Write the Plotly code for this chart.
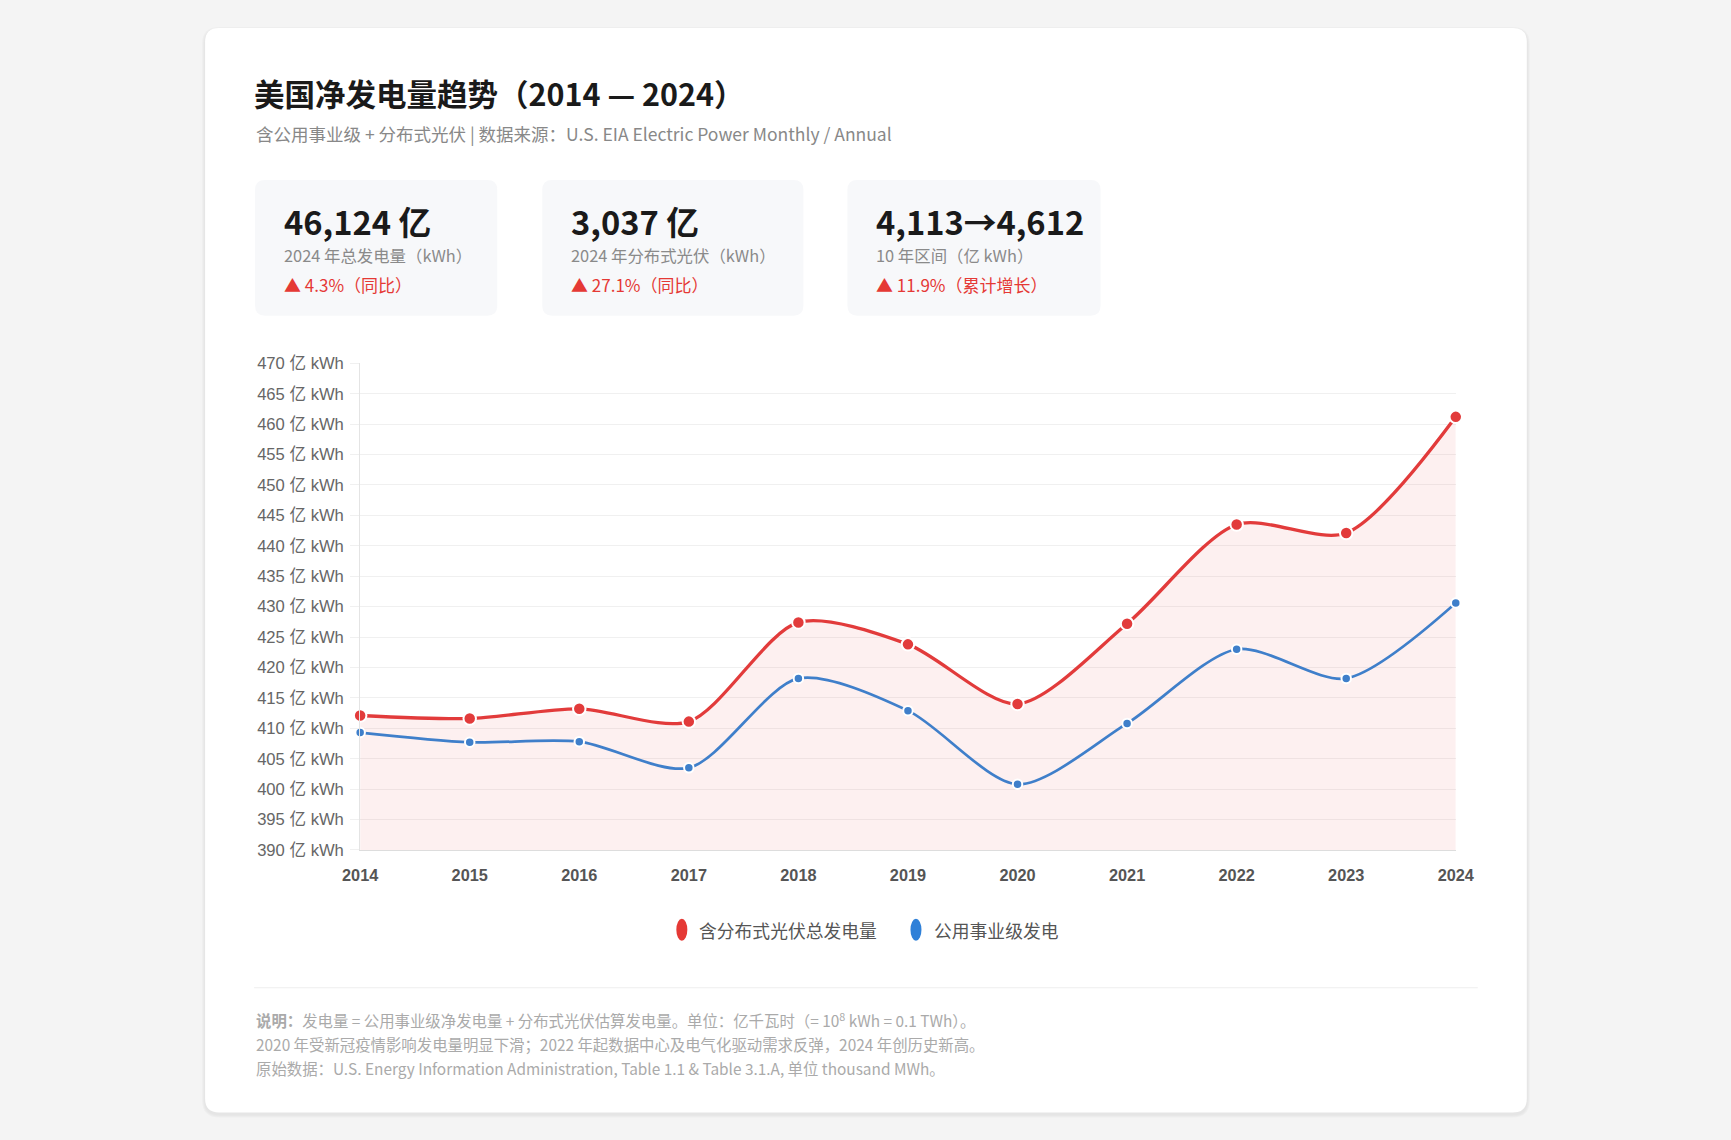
import plotly.graph_objects as go

# ---------------- data ----------------
years = [2014, 2015, 2016, 2017, 2018, 2019, 2020, 2021, 2022, 2023, 2024]
total_gen = [412.1, 411.6, 413.2, 411.1, 427.4, 423.8, 414.0, 427.2, 443.5, 442.1, 461.2]
utility_gen = [409.3, 407.7, 407.8, 403.5, 418.2, 412.9, 400.8, 410.8, 423.0, 418.2, 430.6]
series_names = ["含分布式光伏总发电量", "公用事业级发电"]
y_ticks = list(range(390, 471, 5))
y_tick_text = [f"{v} 亿 kWh" for v in y_ticks]

title_text = "美国净发电量趋势（2014 — 2024）"
subtitle_text = "含公用事业级 + 分布式光伏 | 数据来源：U.S. EIA Electric Power Monthly / Annual"
kpi_values = ["46,124 亿", "3,037 亿", "4,113→4,612"]
kpi_labels = ["2024 年总发电量（kWh）", "2024 年分布式光伏（kWh）", "10 年区间（亿 kWh）"]
kpi_deltas = ["▲ 4.3%（同比）", "▲ 27.1%（同比）", "▲ 11.9%（累计增长）"]
notes = [
    "<b>说明：</b>发电量 = 公用事业级净发电量 + 分布式光伏估算发电量。单位：亿千瓦时（= 10<sup>8</sup> kWh = 0.1 TWh）。",
    "2020 年受新冠疫情影响发电量明显下滑；2022 年起数据中心及电气化驱动需求反弹，2024 年创历史新高。",
    "原始数据：U.S. Energy Information Administration, Table 1.1 & Table 3.1.A, 单位 thousand MWh。",
]

# ---------------- layout helpers ----------------
# measured mapping between page pixels and the captured picture
SX, OX, SY, OY, M = 0.979, 10.2, 0.985, 0.0, 8
W, H = 1760, 1160
RED = "#e23b3b"
BLUE = "#3f7fca"
CJK = "Noto Sans CJK SC, sans-serif"
ARIAL = "Liberation Sans, Arial, Noto Sans CJK SC, sans-serif"


def X(r):  # target picture pixel -> paper fraction
    return ((r - OX) / SX - M) / W


def Y(r):
    return 1 - ((r - OY) / SY - M) / H


def rrect(x0, y0, x1, y1, r, fill, line="rgba(0,0,0,0)", lw=0):
    p = (
        f"M {X(x0 + r)},{Y(y0)} L {X(x1 - r)},{Y(y0)} Q {X(x1)},{Y(y0)} {X(x1)},{Y(y0 + r)} "
        f"L {X(x1)},{Y(y1 - r)} Q {X(x1)},{Y(y1)} {X(x1 - r)},{Y(y1)} "
        f"L {X(x0 + r)},{Y(y1)} Q {X(x0)},{Y(y1)} {X(x0)},{Y(y1 - r)} "
        f"L {X(x0)},{Y(y0 + r)} Q {X(x0)},{Y(y0)} {X(x0 + r)},{Y(y0)} Z"
    )
    return dict(type="path", xref="paper", yref="paper", path=p, fillcolor=fill,
                line=dict(color=line, width=lw), layer="below")


fig = go.Figure()

fig.add_trace(go.Scatter(
    x=years, y=total_gen, name=series_names[0], mode="lines+markers",
    line=dict(color=RED, width=3.3, shape="spline", smoothing=0.8),
    marker=dict(size=12.5, color=RED, line=dict(color="white", width=2)),
    fill="tozeroy", fillcolor="rgba(226,59,59,0.08)", cliponaxis=False,
    showlegend=False,
))
fig.add_trace(go.Scatter(
    x=years, y=utility_gen, name=series_names[1], mode="lines+markers",
    line=dict(color=BLUE, width=2.7, shape="spline", smoothing=0.8),
    marker=dict(size=9.5, color=BLUE, line=dict(color="white", width=2)),
    cliponaxis=False, showlegend=False,
))

shapes = []
# card shadow + card
for i, a in enumerate([0.025, 0.02, 0.015]):
    d = 3 - i
    shapes.append(rrect(205 - d, 27 - d + 2, 1526 + d, 1113 + d + 2, 14 + d, f"rgba(0,0,0,{a})"))
shapes.append(rrect(205, 27, 1526, 1113, 14, "#ffffff"))
# KPI cards
kpi_boxes = [(255, 179, 497, 315), (542, 179, 803, 315), (847, 179, 1100, 315)]
for (x0, y0, x1, y1) in kpi_boxes:
    shapes.append(rrect(x0, y0, x1, y1, 10, "#f7f8fa"))
# divider
shapes.append(dict(type="line", xref="paper", yref="paper", x0=X(254), x1=X(1477), y0=Y(988), y1=Y(988),
                   line=dict(color="#eeeeee", width=1), layer="below"))
# legend ellipses
shapes.append(dict(type="circle", xref="paper", yref="paper", x0=X(676), x1=X(687), y0=Y(941), y1=Y(919),
                   fillcolor="#e53935", line=dict(width=0)))
shapes.append(dict(type="circle", xref="paper", yref="paper", x0=X(910), x1=X(921), y0=Y(941), y1=Y(919),
                   fillcolor="#2f80d8", line=dict(width=0)))

ann = []
ann.append(dict(text=f"<b>{title_text}</b>", x=X(252), y=Y(92), xref="paper", yref="paper",
                xanchor="left", yanchor="middle", showarrow=False,
                font=dict(family=CJK, size=30.5, color="#1a1a1a")))
ann.append(dict(text=subtitle_text, x=X(254), y=Y(133), xref="paper", yref="paper",
                xanchor="left", yanchor="middle", showarrow=False,
                font=dict(family=CJK, size=17.5, color="#888888")))
for (x0, y0, x1, y1), v, l, d in zip(kpi_boxes, kpi_values, kpi_labels, kpi_deltas):
    tx = x0 + 27
    ann.append(dict(text=f"<b>{v}</b>", x=X(tx), y=Y(220), xref="paper", yref="paper",
                    xanchor="left", yanchor="middle", showarrow=False,
                    font=dict(family=CJK, size=32.7, color="#1a1a1a")))
    ann.append(dict(text=l, x=X(tx), y=Y(254), xref="paper", yref="paper",
                    xanchor="left", yanchor="middle", showarrow=False,
                    font=dict(family=CJK, size=16.4, color="#8a8a8a")))
    ann.append(dict(text=d, x=X(tx), y=Y(284), xref="paper", yref="paper",
                    xanchor="left", yanchor="middle", showarrow=False,
                    font=dict(family=CJK, size=17, color="#e53935")))
# legend texts
ann.append(dict(text=series_names[0], x=X(697), y=Y(930), xref="paper", yref="paper",
                xanchor="left", yanchor="middle", showarrow=False,
                font=dict(family=CJK, size=17.8, color="#555555")))
ann.append(dict(text=series_names[1], x=X(932), y=Y(930), xref="paper", yref="paper",
                xanchor="left", yanchor="middle", showarrow=False,
                font=dict(family=CJK, size=17.8, color="#555555")))
# notes
for ny, t in zip([1020, 1044, 1068], notes):
    ann.append(dict(text=t, x=X(254), y=Y(ny), xref="paper", yref="paper",
                    xanchor="left", yanchor="middle", showarrow=False,
                    font=dict(family=CJK, size=15.4, color="#aaaaaa")))

fig.update_layout(
    width=W, height=H,
    margin=dict(l=0, r=0, t=0, b=0),
    paper_bgcolor="#f4f4f4",
    plot_bgcolor="rgba(0,0,0,0)",
    shapes=shapes,
    annotations=ann,
    showlegend=False,
    xaxis=dict(
        domain=[X(360), X(1455)],
        range=[2014, 2024],
        tickvals=years, ticktext=[str(y) for y in years],
        showgrid=False, zeroline=False,
        showline=True, linecolor="#dddddd", linewidth=1,
        ticks="", ticklabelstandoff=10,
        tickfont=dict(family=ARIAL, size=16.3, color="#555555", weight="bold"),
    ),
    yaxis=dict(
        domain=[Y(850), Y(362.7)],
        range=[390, 470],
        tickvals=y_ticks, ticktext=y_tick_text,
        showgrid=True, gridcolor="#f0f0f0", gridwidth=1,
        zeroline=False,
        showline=True, linecolor="#e4e4e4", linewidth=1,
        ticks="outside", ticklen=9, tickcolor="#f0f0f0",
        ticklabelstandoff=3,
        tickfont=dict(family=ARIAL, size=16.6, color="#666666"),
    ),
)

fig.write_html("out.html", post_script="document.body.style.background='#f4f4f4';")
